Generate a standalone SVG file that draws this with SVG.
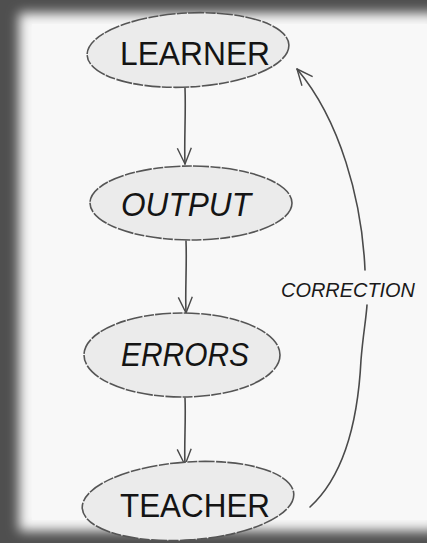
<svg xmlns="http://www.w3.org/2000/svg" width="427" height="543" viewBox="0 0 427 543">
  <defs>
    <filter id="soft" x="-10%" y="-10%" width="120%" height="120%">
      <feGaussianBlur stdDeviation="6"/>
    </filter>
    <marker id="vee" viewBox="0 0 20 20" refX="18" refY="10" markerWidth="20" markerHeight="20" markerUnits="userSpaceOnUse" orient="auto">
      <path d="M2,3 L18,10 L2,17" fill="none" stroke="#4a4a4a" stroke-width="1.4" stroke-linejoin="round"/>
    </marker>
    <style>
      .node ellipse { fill: #ebebeb; stroke: #555; stroke-width: 1.6; stroke-dasharray: 16 1.5 10 1.2; }
      .node text { font-family: "Liberation Sans", "DejaVu Sans", sans-serif; font-size: 33px; fill: #141414; text-anchor: middle; }
      .slant { font-style: italic; }
      .conn path { fill: none; stroke: #4a4a4a; stroke-width: 1.6; stroke-linecap: round; }
      .lbl { font-family: "Liberation Sans", "DejaVu Sans", sans-serif; font-size: 21px; font-style: italic; fill: #1a1a1a; text-anchor: middle; }
    </style>
  </defs>
  <rect x="0" y="0" width="427" height="543" fill="#4f4f4f"/>
  <rect x="19" y="13" width="420" height="518" fill="#f7f7f7" filter="url(#soft)"/>
  <rect x="32" y="24" width="400" height="496" fill="#f8f8f8"/>

  <g class="conn">
    <path d="M185,88 C186,115 184,140 185,164" marker-end="url(#vee)"/>
    <path d="M186,241 C187,265 185,290 186,313" marker-end="url(#vee)"/>
    <path d="M185,398 C186,420 184,445 185,465" marker-end="url(#vee)"/>
    <path d="M310,507 C345,475 358,420 361,360 C363,335 366,320 367,305"/>
    <path d="M365,270 C362,200 340,120 297,69" marker-end="url(#vee)"/>
  </g>

  <g id="learner" class="node">
    <ellipse cx="188" cy="50" rx="101" ry="37" transform="rotate(-3 188 50)"/>
    <text x="195" y="65" textLength="150" lengthAdjust="spacingAndGlyphs">LEARNER</text>
  </g>
  <g id="output" class="node">
    <ellipse cx="191" cy="203" rx="101" ry="37"/>
    <text class="slant" x="186" y="216" textLength="130" lengthAdjust="spacingAndGlyphs">OUTPUT</text>
  </g>
  <g id="errors" class="node">
    <ellipse cx="182" cy="355" rx="98" ry="42"/>
    <text class="slant" x="185" y="366" textLength="128" lengthAdjust="spacingAndGlyphs">ERRORS</text>
  </g>
  <g id="teacher" class="node">
    <ellipse cx="188" cy="501" rx="106" ry="39" transform="rotate(-4 188 501)"/>
    <text x="195" y="517" textLength="150" lengthAdjust="spacingAndGlyphs">TEACHER</text>
  </g>

  <text class="lbl" x="348" y="297" textLength="134" lengthAdjust="spacingAndGlyphs">CORRECTION</text>
</svg>
